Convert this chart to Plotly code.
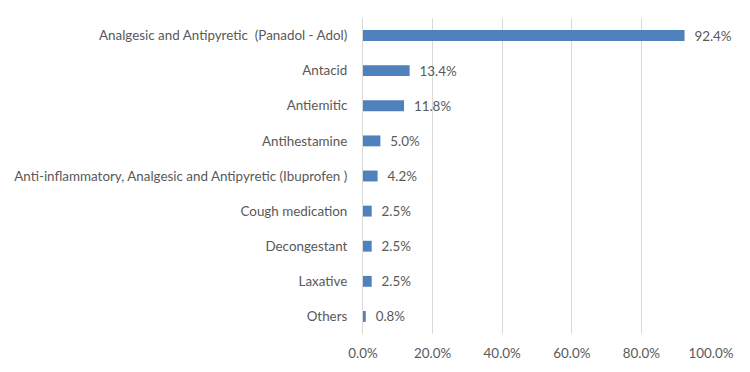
import plotly.graph_objects as go

categories = [
    "Analgesic and Antipyretic  (Panadol - Adol)",
    "Antacid",
    "Antiemitic",
    "Antihestamine",
    "Anti-inflammatory, Analgesic and Antipyretic (Ibuprofen )",
    "Cough medication",
    "Decongestant",
    "Laxative",
    "Others",
]
values = [92.4, 13.4, 11.8, 5.0, 4.2, 2.5, 2.5, 2.5, 0.8]
x_ticks = [0, 20, 40, 60, 80, 100]

font_family = "Lato, 'Open Sans', sans-serif"
gray = "#595959"

fig = go.Figure(
    go.Bar(
        x=values,
        y=categories,
        orientation="h",
        marker=dict(color="#4f81bd", line=dict(width=0)),
        text=[f"  {v:.1f}%" for v in values],
        textposition="outside",
        constraintext="none",
        textfont=dict(family=font_family, size=13.4, color=gray),
        cliponaxis=False,
        width=0.31,
    )
)

fig.update_layout(
    width=750,
    height=372,
    margin=dict(l=355, r=47, t=10, b=46),
    paper_bgcolor="white",
    plot_bgcolor="white",
    showlegend=False,
    font=dict(family=font_family, size=13.4, color=gray),
)
fig.update_xaxes(
    range=[0, 100],
    tickvals=x_ticks,
    ticktext=[f"{t:.1f}%" for t in x_ticks],
    showgrid=True,
    gridcolor="#d9d9d9",
    gridwidth=1,
    zeroline=False,
    showline=False,
    tickfont=dict(family=font_family, size=13.4, color=gray),
    automargin=False,
    ticks="",
    ticklabelstandoff=10,
)
fig.update_yaxes(
    autorange="reversed",
    showgrid=False,
    zeroline=False,
    showline=True,
    linecolor="#d9d9d9",
    linewidth=1,
    ticks="",
    tickfont=dict(family=font_family, size=13.4, color=gray),
    automargin=False,
    ticklabelstandoff=12,
)

fig.write_html("out.html")
